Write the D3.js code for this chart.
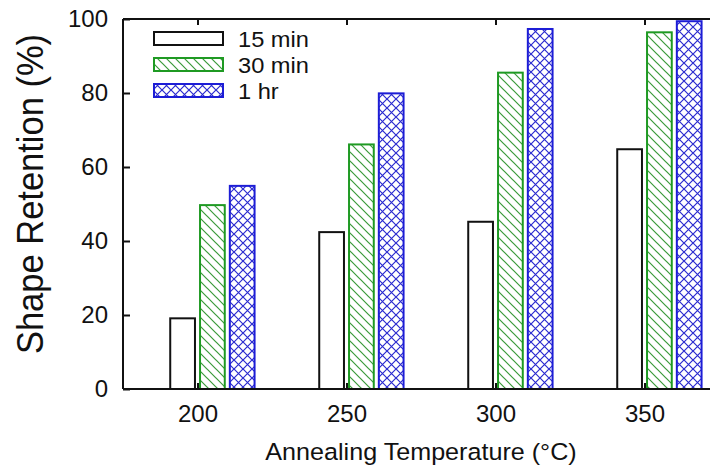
<!DOCTYPE html>
<html>
<head>
<meta charset="utf-8">
<script src="https://cdn.jsdelivr.net/npm/d3@7"></script>
<style>
  html, body { margin: 0; padding: 0; background: #fff; }
  svg { display: block; }
  text { font-family: "Liberation Sans", Arial, Helvetica, sans-serif; fill: #111; }
</style>
</head>
<body>
<svg id="chart" width="710" height="469"></svg>
<script>
// Annealing temperatures (°C) on the x axis
const temperatures = [200, 250, 300, 350];
// Series names shown in the legend
const seriesNames = ["15 min", "30 min", "1 hr"];
// Shape retention (%) per annealing time, one value per temperature
const retention15min = [19.1, 42.4, 45.2, 64.8];
const retention30min = [49.7, 66.1, 85.5, 96.4];
const retention1hr = [54.9, 79.9, 97.3, 99.4];
// Axis tick values
const yTicks = [0, 20, 40, 60, 80, 100];
const xTicks = [200, 250, 300, 350];

const seriesValues = [retention15min, retention30min, retention1hr];

const W = 710, H = 469;
const plot = { left: 123, top: 19, bottom: 389 };

const svg = d3.select("#chart");

// x is continuous in °C; the frame runs from 175 to 375
const x = d3.scaleLinear().domain([175, 375]).range([plot.left, plot.left + 200 * 2.98]);
const y = d3.scaleLinear().domain([0, 100]).range([plot.bottom, plot.top]);

// bar placement around each temperature, in °C
const barOffsets = [-5, 5, 15];
const barWidth = 8.3;

const styles = [
  { stroke: "#111111", fill: "#ffffff" },
  { stroke: "#1f9a23", fill: "url(#hatch)" },
  { stroke: "#1d1dd6", fill: "url(#cross)" }
];

// fill patterns
const defs = svg.append("defs");
const hatch = defs.append("pattern")
  .attr("id", "hatch").attr("patternUnits", "userSpaceOnUse")
  .attr("width", 9).attr("height", 9);
hatch.append("rect").attr("width", 9).attr("height", 9).attr("fill", "#fff");
hatch.append("path")
  .attr("d", "M-1,-1 L10,10 M-1,8 L1,10 M8,-1 L10,1")
  .attr("stroke", "#3a9a3a").attr("stroke-width", 1.2).attr("fill", "none");

const cross = defs.append("pattern")
  .attr("id", "cross").attr("patternUnits", "userSpaceOnUse")
  .attr("width", 9).attr("height", 9);
cross.append("rect").attr("width", 9).attr("height", 9).attr("fill", "#fff");
cross.append("path")
  .attr("d", "M-1,-1 L10,10 M-1,10 L10,-1")
  .attr("stroke", "#2a2ad0").attr("stroke-width", 1.2).attr("fill", "none");

svg.append("rect").attr("width", W).attr("height", H).attr("fill", "#fff");

// bars
seriesValues.forEach((vals, si) => {
  svg.append("g").selectAll("rect")
    .data(vals.map((v, i) => ({ t: temperatures[i], v })))
    .join("rect")
    .attr("x", d => x(d.t + barOffsets[si] - barWidth / 2))
    .attr("width", d => x(d.t + barOffsets[si] + barWidth / 2) - x(d.t + barOffsets[si] - barWidth / 2))
    .attr("y", d => y(d.v))
    .attr("height", d => y(0) - y(d.v))
    .attr("fill", styles[si].fill)
    .attr("stroke", styles[si].stroke)
    .attr("stroke-width", 2);
});

// axes with inward ticks
const axisFont = 24;
const gLeft = svg.append("g").attr("transform", `translate(${plot.left},0)`)
  .call(d3.axisLeft(y).tickValues(yTicks).tickSizeInner(-7).tickSizeOuter(0).tickPadding(15));
const gBottom = svg.append("g").attr("transform", `translate(0,${plot.bottom})`)
  .call(d3.axisBottom(x).tickValues(xTicks).tickSizeInner(-6).tickSizeOuter(0).tickPadding(16));
const gTop = svg.append("g").attr("transform", `translate(0,${plot.top})`)
  .call(d3.axisTop(x).tickValues(xTicks).tickSizeInner(-6).tickSizeOuter(0).tickFormat(""));

[gLeft, gBottom, gTop].forEach(g => {
  g.select(".domain").attr("stroke", "#111").attr("stroke-width", 2);
  g.selectAll(".tick line").attr("stroke", "#111").attr("stroke-width", 2);
  g.selectAll(".tick text")
    .attr("font-size", axisFont)
    .attr("font-family", "Liberation Sans, Arial, sans-serif")
    .attr("fill", "#111");
});
gLeft.select(".domain").attr("d", `M0,${plot.top}V${plot.bottom}`);
gBottom.select(".domain").attr("d", `M${plot.left},0H${W}`);
gTop.select(".domain").attr("d", `M${plot.left},0H${W}`);

// axis titles
svg.append("text")
  .attr("transform", `translate(${421},${460}) scale(1.07,1)`)
  .attr("text-anchor", "middle")
  .attr("font-size", 23.5)
  .text("Annealing Temperature (°C)");

svg.append("text")
  .attr("transform", `translate(${43},${194}) rotate(-90) scale(1,1.07)`)
  .attr("text-anchor", "middle")
  .attr("font-size", 34.5)
  .text("Shape Retention (%)");

// legend
const legend = svg.append("g");
seriesNames.forEach((name, i) => {
  const top = 32 + i * 26;
  legend.append("rect")
    .attr("x", 154).attr("y", top)
    .attr("width", 69).attr("height", 13)
    .attr("fill", styles[i].fill)
    .attr("stroke", styles[i].stroke)
    .attr("stroke-width", 2);
  legend.append("text")
    .attr("transform", `translate(238,${top + 14.5}) scale(1.1,1)`)
    .attr("font-size", 21.5)
    .text(name);
});
</script>
</body>
</html>
